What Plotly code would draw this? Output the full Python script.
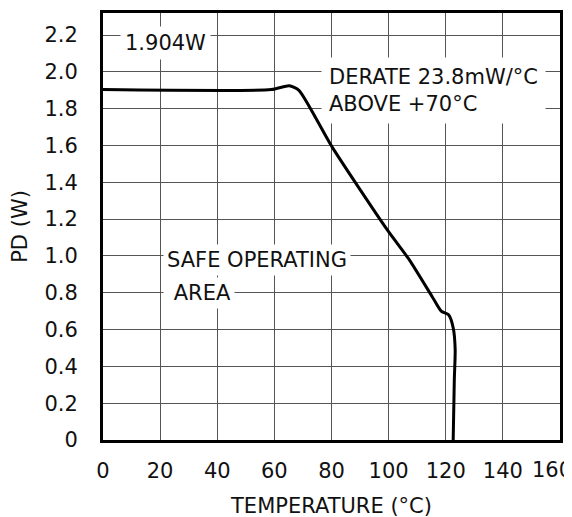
import plotly.graph_objects as go

# Curve: power dissipation vs temperature
temp_c = [0, 58.9, 65.2, 68.6, 80.3, 99.6, 107.2, 115.2, 118.4, 121.0, 122.6, 123.3, 123.0, 122.6]
pd_w = [1.904, 1.904, 1.925, 1.90, 1.59, 1.14, 0.98, 0.78, 0.70, 0.68, 0.61, 0.49, 0.33, 0.0]

x_ticks = [0, 20, 40, 60, 80, 100, 120, 140, 160]
x_tick_labels = ["0", "20", "40", "60", "80", "100", "120", "140", "160"]
y_ticks = [0, 0.2, 0.4, 0.6, 0.8, 1.0, 1.2, 1.4, 1.6, 1.8, 2.0, 2.2]
y_tick_text = ["0", "0.2", "0.4", "0.6", "0.8", "1.0", "1.2", "1.4", "1.6", "1.8", "2.0", "2.2"]

FONT = "DejaVu Sans"
fs = 21

fig = go.Figure()
fig.add_trace(go.Scatter(
    x=temp_c, y=pd_w, mode="lines",
    line=dict(color="black", width=3, shape="spline", smoothing=0.6),
    hoverinfo="skip", showlegend=False,
))

ann_common = dict(showarrow=False, bgcolor="white", font=dict(family=FONT, size=fs, color="#111"))
fig.add_annotation(x=21.9, y=2.158, text="1.904W", xanchor="center", yanchor="middle",
                   borderpad=4, **ann_common)
fig.add_annotation(x=76.3, y=1.90, text="DERATE 23.8mW/°C<br>ABOVE +70°C", xanchor="left",
                   yanchor="middle", align="left", borderpad=7, **ann_common)
fig.add_annotation(x=21.0, y=0.978, text="SAFE OPERATING", xanchor="left", yanchor="middle",
                   align="left", borderpad=3, **ann_common)
fig.add_annotation(x=21.0, y=0.80, text="\u00a0AREA", xanchor="left", yanchor="middle",
                   align="left", borderpad=3, **ann_common)

# last x tick label sits slightly inside the right edge, as in the original
x_tick_text = x_tick_labels[:-1] + [""]
fig.add_annotation(x=x_ticks[-1], y=0, text=x_tick_labels[-1], xanchor="center",
                   yanchor="middle", xshift=-8, yshift=-30, showarrow=False,
                   font=dict(family=FONT, size=fs, color="#111"))

fig.update_layout(
    width=572, height=517,
    margin=dict(l=95, r=20, t=5, b=85, autoexpand=False),
    paper_bgcolor="white", plot_bgcolor="white",
    font=dict(family=FONT, size=fs, color="#111"),
    xaxis=dict(
        range=[0, 160.0001], tickvals=x_ticks, ticktext=x_tick_text, showgrid=True,
        gridcolor="#555", gridwidth=1.2, automargin=False,
        showline=True, linecolor="black", linewidth=3, mirror=True, zeroline=False,
        ticks="", ticklabelstandoff=10, ticklabeloverflow="allow",
        title=dict(text="TEMPERATURE (°C)", standoff=17, font=dict(family=FONT, size=fs)),
    ),
    yaxis=dict(
        range=[0, 2.32], tickvals=y_ticks, ticktext=y_tick_text, showgrid=True,
        gridcolor="#555", gridwidth=1.2, automargin=False,
        showline=True, linecolor="black", linewidth=3, mirror=True, zeroline=False,
        ticks="", ticklabelstandoff=18,
        title=dict(text="PD (W)", standoff=30, font=dict(family=FONT, size=fs)),
    ),
)

fig.write_html("out.html")
